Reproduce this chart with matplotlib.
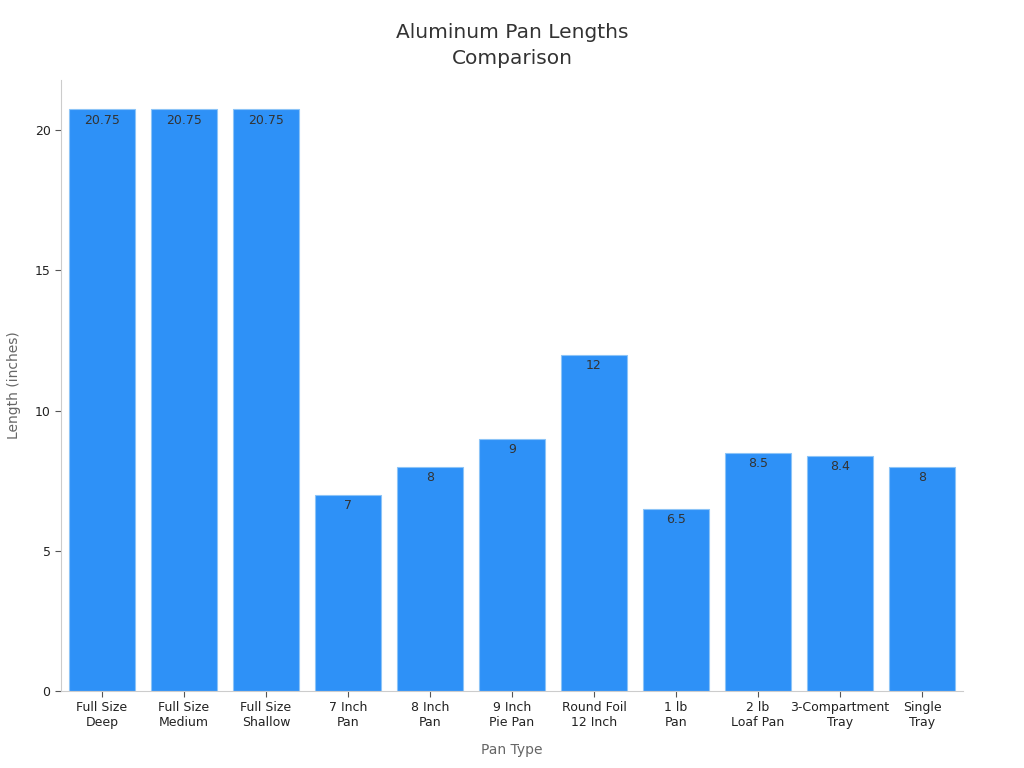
import matplotlib
matplotlib.use("Agg")
import matplotlib.pyplot as plt

categories = ["Full Size\nDeep", "Full Size\nMedium", "Full Size\nShallow", "7 Inch\nPan",
              "8 Inch\nPan", "9 Inch\nPie Pan", "Round Foil\n12 Inch", "1 lb\nPan",
              "2 lb\nLoaf Pan", "3-Compartment\nTray", "Single\nTray"]
lengths = [20.75, 20.75, 20.75, 7, 8, 9, 12, 6.5, 8.5, 8.4, 8]
value_labels = ["20.75", "20.75", "20.75", "7", "8", "9", "12", "6.5", "8.5", "8.4", "8"]

fig = plt.figure(figsize=(10.24, 7.68), dpi=100)
ax = fig.add_axes([0.0596, 0.1003, 0.8808, 0.7957])

x = list(range(len(categories)))
bars = ax.bar(x, lengths, width=0.8, color="#2E91F7", edgecolor="#8CC4F7", linewidth=0.8)

for b, lab in zip(bars, value_labels):
    ax.text(b.get_x() + b.get_width() / 2, b.get_height() - 0.15, lab,
            ha="center", va="top", fontsize=9, color="#333333")

ax.set_xlim(-0.5, 10.5)
ax.set_ylim(0, 21.8)
ax.set_xticks(x)
ax.set_xticklabels(categories, fontsize=9, color="#222222")
ax.set_yticks([0, 5, 10, 15, 20])
ax.tick_params(axis="y", labelsize=9, colors="#222222", length=4, color="#555555")
ax.tick_params(axis="x", length=4, color="#555555")
for s in ["top", "right"]:
    ax.spines[s].set_visible(False)
for s in ["left", "bottom"]:
    ax.spines[s].set_color("#cccccc")
    ax.spines[s].set_linewidth(0.8)

ax.set_xlabel("Pan Type", fontsize=10, color="#666666", labelpad=10)
ax.set_ylabel("Length (inches)", fontsize=10, color="#666666", labelpad=10)
fig.suptitle("Aluminum Pan Lengths\nComparison", fontsize=14.5, color="#333333",
             y=0.97, linespacing=1.45)

fig.savefig("out.png", dpi=100)
